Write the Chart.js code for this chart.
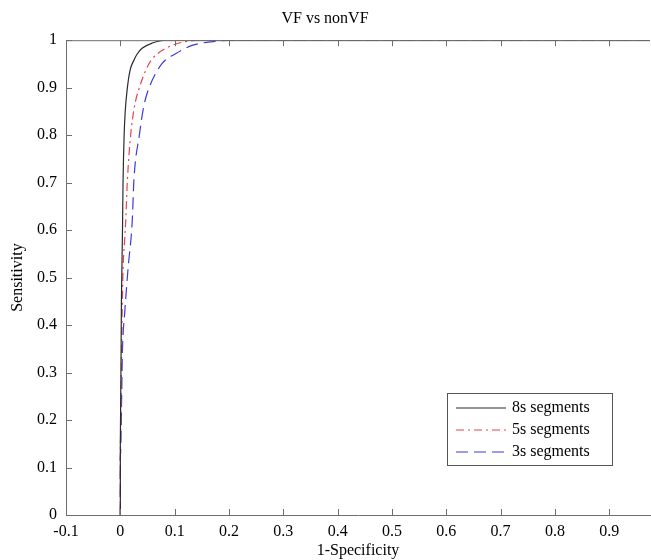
<!DOCTYPE html>
<html>
<head>
<meta charset="utf-8">
<script src="https://cdn.jsdelivr.net/npm/chart.js@4"></script>
<style>
  html, body { margin: 0; padding: 0; background: #fff; }
  #wrap { width: 651px; height: 560px; }
</style>
</head>
<body>
<div id="wrap"><canvas id="roc" width="651" height="560"></canvas></div>
<script>
// ROC data (1-specificity, sensitivity)
const fpr8 = [0, 0, 0.002, 0.004, 0.005, 0.007, 0.009, 0.013, 0.018, 0.025, 0.031, 0.040, 0.059, 0.083, 1];
const tpr8 = [0, 0.15, 0.45, 0.60, 0.70, 0.80, 0.85, 0.90, 0.937, 0.958, 0.971, 0.983, 0.994, 1, 1];

const fpr5 = [0, 0, 0.003, 0.005, 0.008, 0.010, 0.013, 0.019, 0.026, 0.035, 0.053, 0.068, 0.095, 0.120, 0.150, 1];
const tpr5 = [0, 0.15, 0.40, 0.516, 0.58, 0.621, 0.705, 0.80, 0.86, 0.90, 0.951, 0.971, 0.989, 0.997, 1, 1];

const fpr3 = [0, 0, 0.004, 0.008, 0.014, 0.022, 0.025, 0.035, 0.043, 0.053, 0.077, 0.101, 0.132, 0.170, 0.215, 1];
const tpr3 = [0, 0.12, 0.35, 0.425, 0.516, 0.621, 0.705, 0.80, 0.86, 0.90, 0.951, 0.971, 0.989, 0.997, 1, 1];

const seriesNames = ['8s segments', '5s segments', '3s segments'];
const xTicks = [-0.1, 0, 0.1, 0.2, 0.3, 0.4, 0.5, 0.6, 0.7, 0.8, 0.9];
const yTicks = [0, 0.1, 0.2, 0.3, 0.4, 0.5, 0.6, 0.7, 0.8, 0.9, 1];

const serif = 'Liberation Serif, Times New Roman, serif';
const axisColor = '#6e6e6e';

function toPoints(xs, ys) {
    return xs.map(function (x, i) { return { x: x, y: ys[i] }; });
}

function fmt(v) {
    let r = Math.round(v * 10) / 10;
    if (r === 0) return '0';
    return String(r);
}

// inward MATLAB-style ticks + top box line
const tickMarks = {
    id: 'tickMarks',
    afterDatasetsDraw(chart) {
        const ctx = chart.ctx;
        const a = chart.chartArea;
        const xs = chart.scales.x, ys = chart.scales.y;
        ctx.save();
        ctx.strokeStyle = axisColor;
        ctx.lineWidth = 1;
        ctx.beginPath();
        ctx.moveTo(a.left, a.top + 0.5);
        ctx.lineTo(a.right, a.top + 0.5);
        xTicks.forEach(function (v) {
            const px = Math.round(xs.getPixelForValue(v)) + 0.5;
            ctx.moveTo(px, a.bottom);
            ctx.lineTo(px, a.bottom - 6);
            ctx.moveTo(px, a.top);
            ctx.lineTo(px, a.top + 6);
        });
        yTicks.forEach(function (v) {
            const py = Math.round(ys.getPixelForValue(v)) + 0.5;
            ctx.moveTo(a.left, py);
            ctx.lineTo(a.left + 6, py);
        });
        ctx.stroke();
        ctx.restore();
    }
};

// boxed legend in the lower right like the original
const boxLegend = {
    id: 'boxLegend',
    afterDraw(chart) {
        const ctx = chart.ctx;
        const x0 = 447, y0 = 393, w = 165, h = 72;
        ctx.save();
        ctx.fillStyle = '#fff';
        ctx.fillRect(x0, y0, w, h);
        ctx.strokeStyle = '#555';
        ctx.lineWidth = 1;
        ctx.strokeRect(x0 + 0.5, y0 + 0.5, w, h);
        ctx.font = '16px ' + serif;
        ctx.textBaseline = 'middle';
        chart.data.datasets.forEach(function (ds, i) {
            const yy = y0 + 15 + i * 22;
            ctx.strokeStyle = ds.borderColor;
            ctx.lineWidth = 1.2;
            ctx.setLineDash(ds.borderDash || []);
            ctx.beginPath();
            ctx.moveTo(x0 + 9, yy);
            ctx.lineTo(x0 + 59, yy);
            ctx.stroke();
            ctx.setLineDash([]);
            ctx.fillStyle = '#000';
            ctx.fillText(ds.label, x0 + 65, yy);
        });
        ctx.restore();
    }
};

new Chart(document.getElementById('roc'), {
    type: 'line',
    data: {
        datasets: [
            {
                label: seriesNames[0],
                data: toPoints(fpr8, tpr8),
                borderColor: '#2b2b2b',
                borderWidth: 1.2,
                fill: false,
                pointRadius: 0,
                cubicInterpolationMode: 'monotone'
            },
            {
                label: seriesNames[1],
                data: toPoints(fpr5, tpr5),
                borderColor: '#e8434f',
                borderWidth: 1.2,
                borderDash: [8, 4, 2, 4],
                fill: false,
                pointRadius: 0,
                cubicInterpolationMode: 'monotone'
            },
            {
                label: seriesNames[2],
                data: toPoints(fpr3, tpr3),
                borderColor: '#3a3ae0',
                borderWidth: 1.2,
                borderDash: [12, 6],
                fill: false,
                pointRadius: 0,
                cubicInterpolationMode: 'monotone'
            }
        ]
    },
    options: {
        responsive: false,
        animation: false,
        layout: { padding: { left: 0, right: 1, top: 0, bottom: 0 } },
        plugins: {
            legend: { display: false },
            tooltip: { enabled: false },
            title: {
                display: true,
                text: 'VF vs nonVF',
                color: '#000',
                font: { family: serif, size: 16, weight: 'normal' },
                padding: { top: 9, bottom: 12 }
            }
        },
        scales: {
            x: {
                type: 'linear',
                min: -0.1,
                max: 0.975,
                afterFit: function (s) { s.height = 45; },
                afterBuildTicks: function (s) { s.ticks = xTicks.map(function (v) { return { value: v }; }); },
                grid: { drawOnChartArea: false, drawTicks: false },
                border: { color: axisColor, width: 1 },
                ticks: {
                    color: '#000',
                    padding: 7,
                    font: { family: serif, size: 16 },
                    callback: fmt
                },
                title: {
                    display: true,
                    text: '1-Specificity',
                    color: '#000',
                    font: { family: serif, size: 16 },
                    padding: { top: 0, bottom: 0 }
                }
            },
            y: {
                type: 'linear',
                min: 0,
                max: 1,
                afterFit: function (s) { s.width = 66; },
                afterBuildTicks: function (s) { s.ticks = yTicks.map(function (v) { return { value: v }; }); },
                grid: { drawOnChartArea: false, drawTicks: false },
                border: { color: axisColor, width: 1 },
                ticks: {
                    color: '#000',
                    padding: 9,
                    font: { family: serif, size: 16 },
                    callback: fmt
                },
                title: {
                    display: true,
                    text: 'Sensitivity',
                    color: '#000',
                    font: { family: serif, size: 16 },
                    padding: { top: 8, bottom: 0 }
                }
            }
        }
    },
    plugins: [tickMarks, boxLegend]
});
</script>
</body>
</html>
